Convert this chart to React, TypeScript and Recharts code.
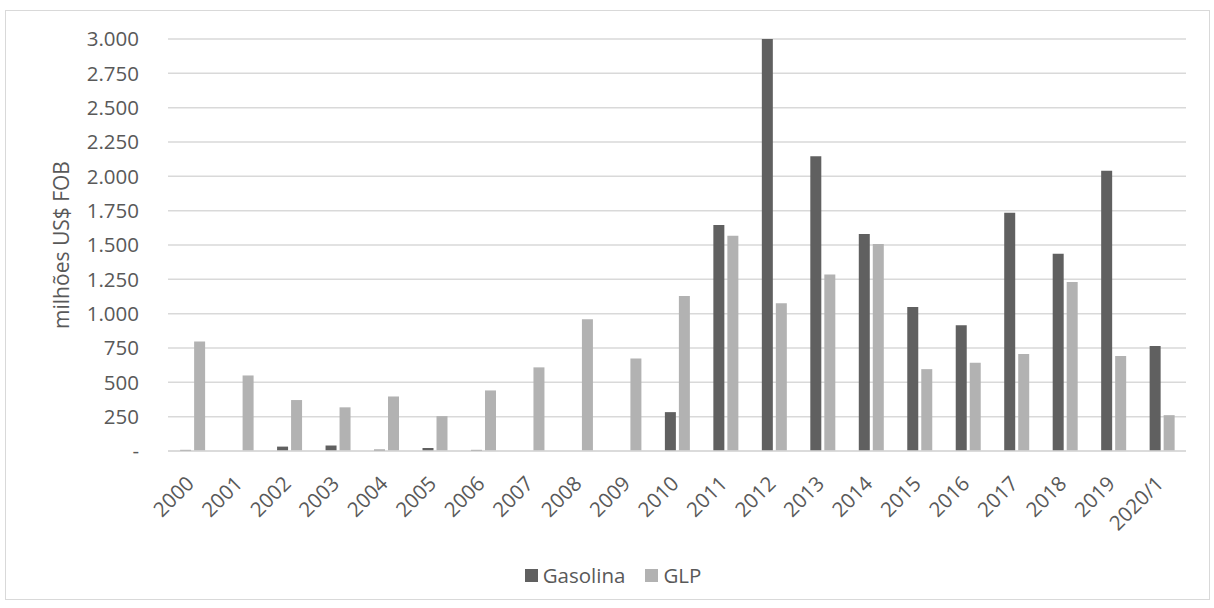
import React from 'react';
import { BarChart, Bar, XAxis, YAxis, CartesianGrid, Legend } from 'recharts';

const anos = ['2000', '2001', '2002', '2003', '2004', '2005', '2006', '2007', '2008', '2009', '2010',
    '2011', '2012', '2013', '2014', '2015', '2016', '2017', '2018', '2019', '2020/1'];
const gasolina = [8, 0, 32, 40, 10, 22, 8, 0, 0, 0, 283, 1645, 3000, 2147, 1581, 1049, 916, 1734, 1436, 2040, 764];
const glp = [798, 550, 371, 318, 397, 254, 441, 609, 959, 674, 1129, 1567, 1076, 1285, 1508, 596, 642, 707, 1231, 691, 261];
const yTicks = [0, 250, 500, 750, 1000, 1250, 1500, 1750, 2000, 2250, 2500, 2750, 3000];

const data = anos.map((ano, i) => ({ ano, gasolina: gasolina[i], glp: glp[i] }));

const FONT = '"Open Sans", sans-serif';
const TXT = '#595959';
const FS = 20.5;

const fmt = (v: number) => (v === 0 ? '-' : String(v).replace(/\B(?=(\d{3})+(?!\d))/g, '.'));

const XTick = (props: any) => {
    const { x, y, payload } = props;
    const ax = x + 3;
    const ay = y + 26;
    return (
        <text
            x={ax}
            y={ay}
            transform={`rotate(-45, ${ax}, ${ay})`}
            textAnchor="end"
            fontFamily={FONT}
            fontSize={FS}
            fill={TXT}
        >
            {payload.value}
        </text>
    );
};

const LegendBox = () => (
    <div style={{ display: 'flex', justifyContent: 'center', fontFamily: FONT, fontSize: FS, color: TXT, paddingLeft: 40 }}>
        <span style={{ display: 'flex', alignItems: 'center', marginRight: 20 }}>
            <span style={{ width: 13, height: 13, background: '#606060', marginRight: 5 }} />
            Gasolina
        </span>
        <span style={{ display: 'flex', alignItems: 'center' }}>
            <span style={{ width: 13, height: 13, background: '#b2b2b2', marginRight: 5 }} />
            GLP
        </span>
    </div>
);

const App = () => {
    return (
        <div style={{ position: 'absolute', left: 0, top: 0, width: 1214, height: 608, background: '#fff' }}>
            <div style={{ position: 'absolute', left: 5, top: 10, width: 1203, height: 588, border: '1px solid #d9d9d9' }} />
            <BarChart
                width={1214}
                height={608}
                data={data}
                margin={{ top: 39, right: 28, bottom: 19, left: 0 }}
                barCategoryGap="25%"
                barGap={3}
            >
                <CartesianGrid vertical={false} stroke="#d9d9d9" strokeWidth={1.5} />
                <XAxis
                    dataKey="ano"
                    interval={0}
                    height={110}
                    tick={<XTick />}
                    tickLine={false}
                    axisLine={{ stroke: '#d9d9d9', strokeWidth: 1.5 }}
                />
                <YAxis
                    width={168}
                    domain={[0, 3000]}
                    ticks={yTicks}
                    tickFormatter={fmt}
                    tickLine={false}
                    axisLine={false}
                    tickSize={0}
                    tickMargin={29}
                    tick={{ fontFamily: FONT, fontSize: FS, fill: TXT }}
                    label={{ value: 'milhões US$ FOB', angle: -90, position: 'center', dx: -22, style: { fontFamily: FONT, fontSize: 21, fill: TXT } }}
                />
                <Legend verticalAlign="bottom" content={<LegendBox />} />
                <Bar dataKey="gasolina" name="Gasolina" fill="#606060" isAnimationActive={false} />
                <Bar dataKey="glp" name="GLP" fill="#b2b2b2" isAnimationActive={false} />
            </BarChart>
        </div>
    );
};

export default App;
